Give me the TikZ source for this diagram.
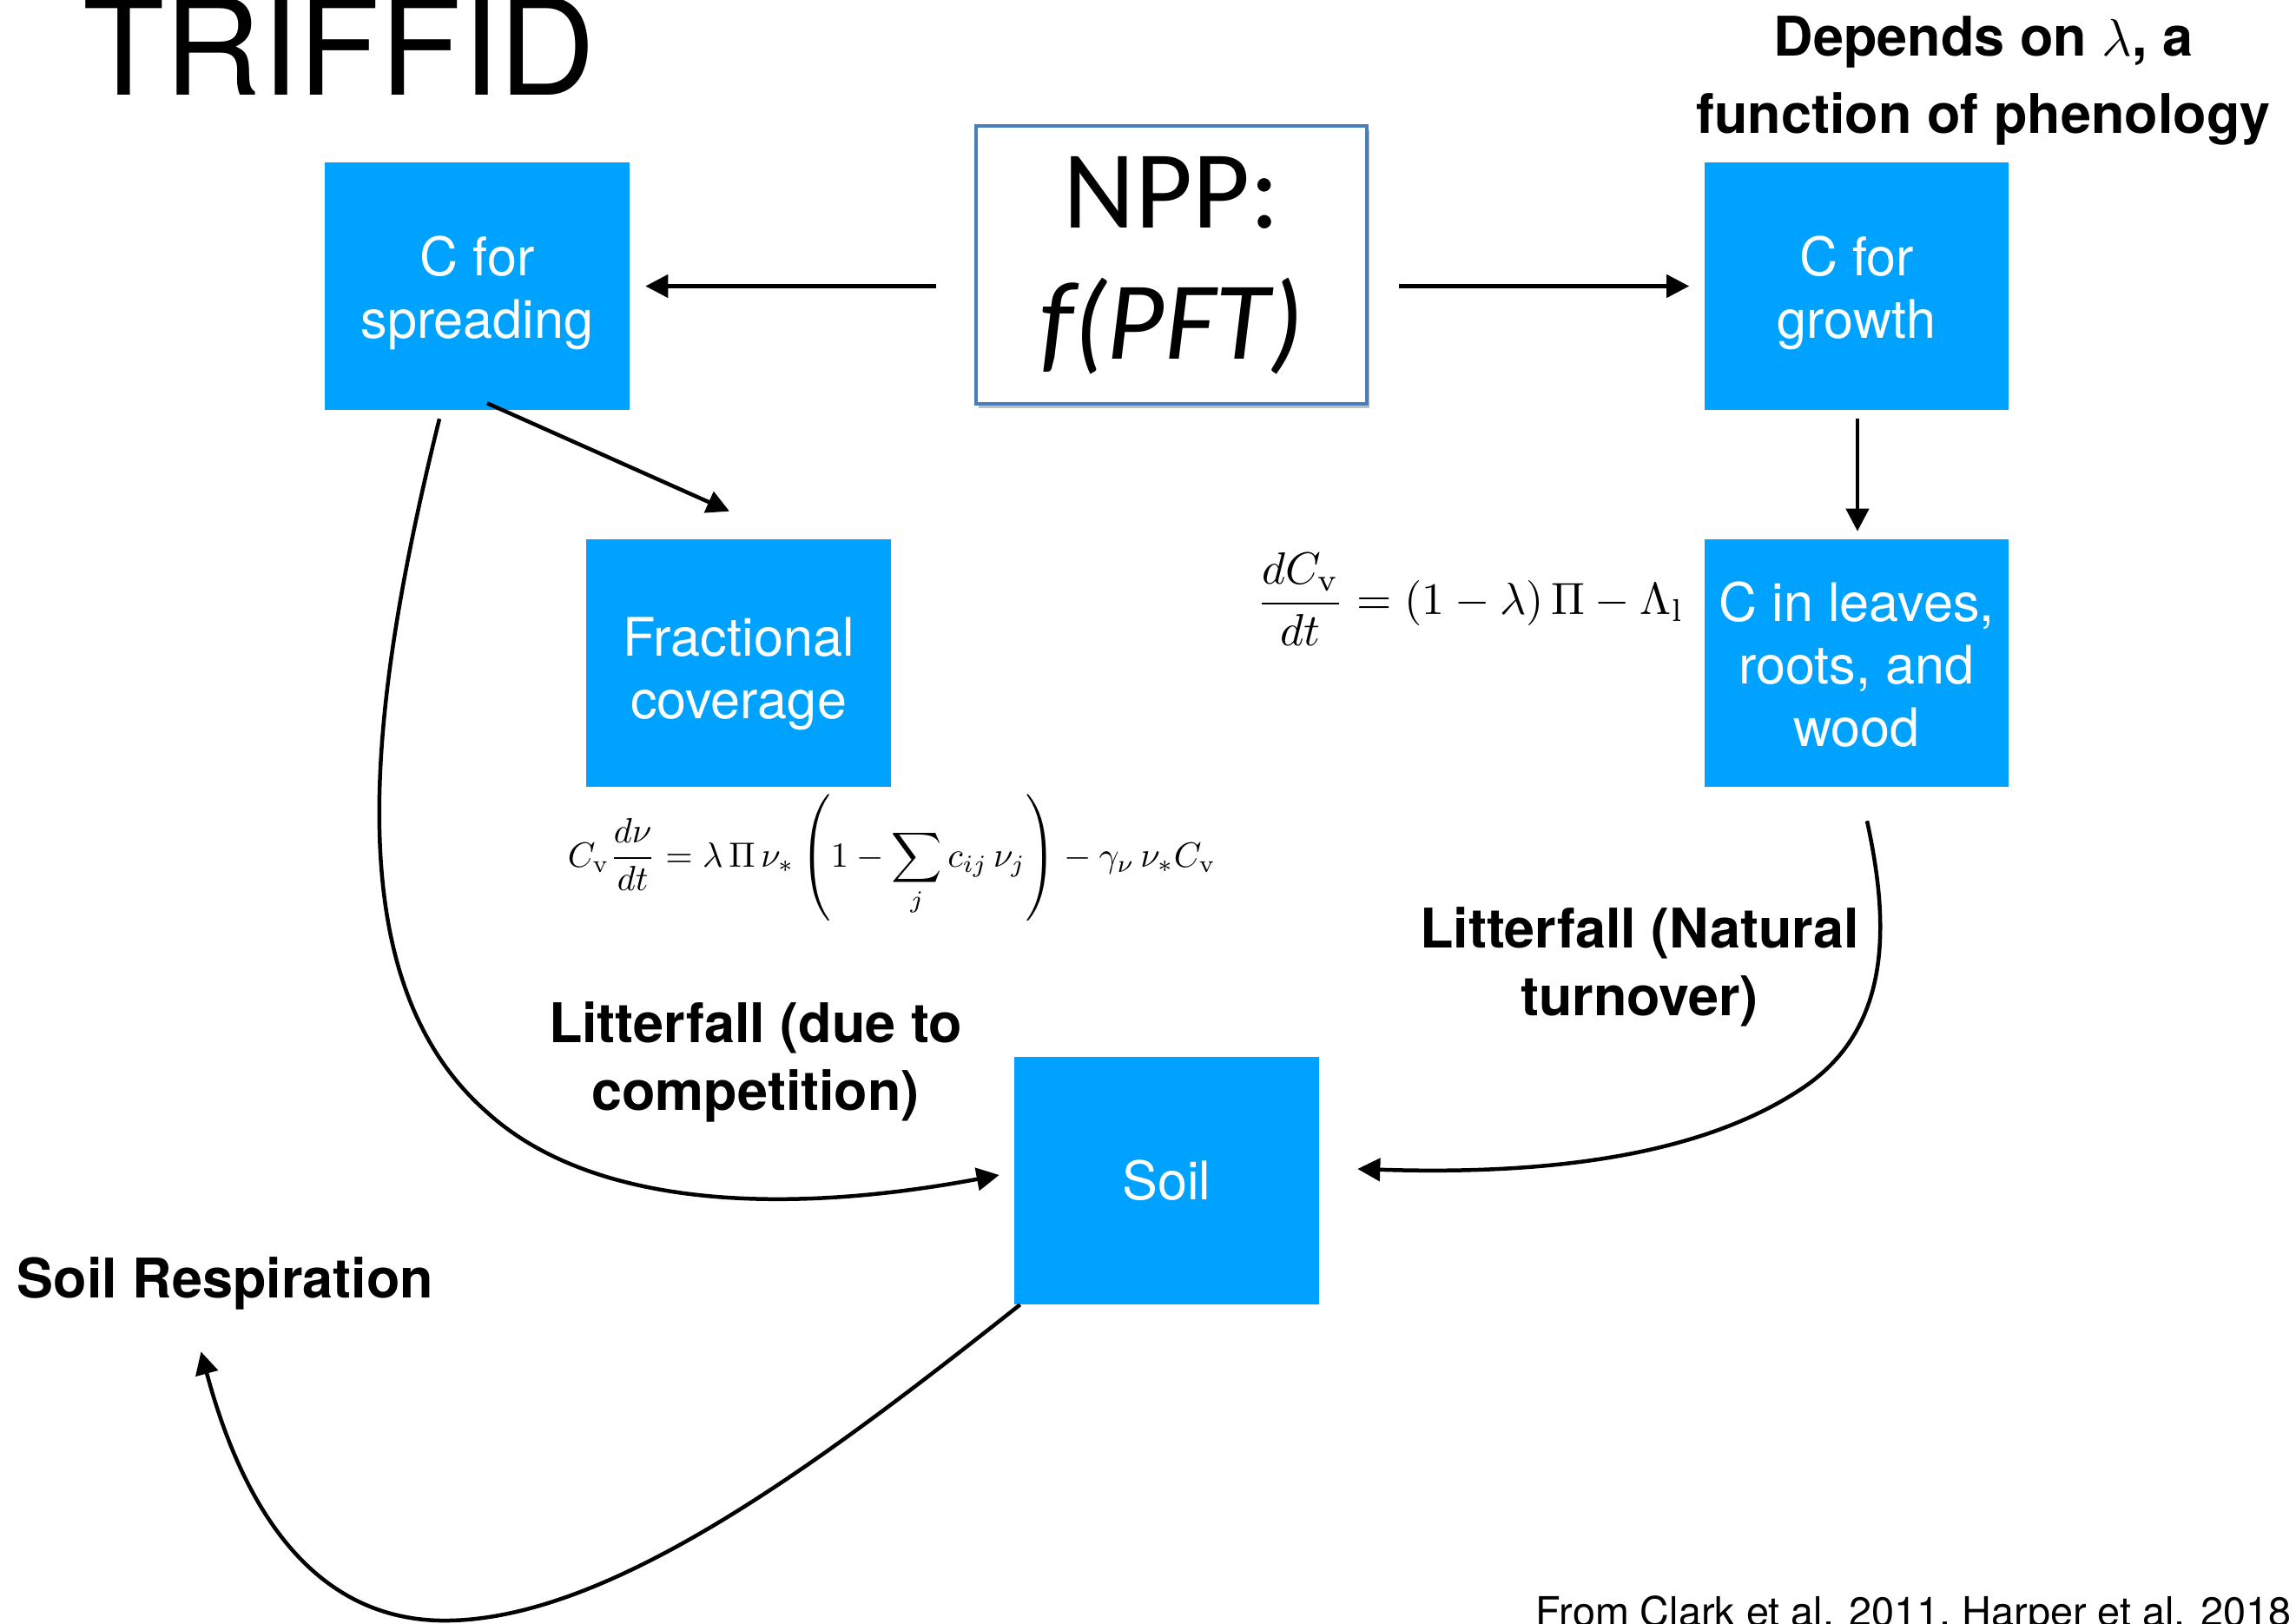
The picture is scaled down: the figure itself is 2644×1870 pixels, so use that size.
\documentclass[tikz,border=0pt]{standalone}
\usepackage[no-math]{fontspec}
\setmainfont{TeX Gyre Heros}
\newfontfamily\calibri{Carlito}
\usetikzlibrary{arrows.meta,calc,shadows}
\definecolor{boxblue}{HTML}{00A2FF}
\definecolor{nppborder}{HTML}{4A7EBB}
\newcommand{\padtop}[1]{\rule{0pt}{#1}}
\begin{document}
\begin{tikzpicture}[x=0.01cm,y=-0.01cm,
  bluebox/.style={fill=boxblue, draw=none, text=white, minimum width=3.5cm, minimum height=2.84cm, align=center, inner sep=0pt, font=\fontsize{17.4}{20.5}\selectfont},
  lbl/.style={font=\bfseries\fontsize{17.9}{22.2}\selectfont, align=center, inner sep=0pt},
  lblone/.style={font=\bfseries\fontsize{17.9}{22.2}\selectfont, inner sep=0pt},
  arr/.style={line width=0.045cm, -{Triangle[length=0.26cm,width=0.26cm]}},
]
\useasboundingbox (0,0) rectangle (2644,1870);

% title
\node[anchor=base west, inner sep=0pt, font=\fontsize{43.8}{50}\selectfont] (title) at (95,110) {TRIFFID};

% boxes
\node[bluebox] (spread) at (549.5,329.5) {\padtop{17.3pt}C for\\spreading};
\node[bluebox] (growth) at (2138,329.5) {\padtop{17.3pt}C for\\growth};
\node[bluebox] (frac) at (850.5,763.5) {\padtop{19.5pt}Fractional\\coverage};
\node[bluebox] (leaves) at (2138,763.5) {\padtop{13.8pt}C in leaves,\\roots, and\\wood};
\node[bluebox] (soil) at (1343.5,1359.5) {Soil};

% NPP box
\node[draw=nppborder, line width=0.04cm, fill=white, minimum width=4.5cm, minimum height=3.2cm,
  drop shadow={shadow xshift=0.03cm, shadow yshift=-0.05cm, opacity=0.25, fill=black}] (npp) at (1349,305) {};
\node[font=\calibri\fontsize{36.4}{43}\selectfont, align=center, inner sep=0pt] (npptext) at ($(npp.center)+(0,1)$) {NPP:\\\textit{f(PFT)}};

% labels
\node[lbl, font=\bfseries\fontsize{17.9}{25.3}\selectfont] (dep) at (2284,93) {Depends on $\lambda$, a\\function of phenology};
\node[lbl] (litc) at (870,1223) {Litterfall (due to\\competition)};
\node[lbl] (litn) at (1888,1113) {Litterfall (Natural\\turnover)};
\node[lblone, anchor=base west] (resp) at (19,1494) {Soil Respiration};
\node[anchor=base west, inner sep=0pt, font=\fontsize{13.3}{16}\selectfont] (cite) at (1768,1872) {From Clark et al. 2011, Harper et al. 2018};

% equations
\node (eq1) at (1027,988) {\resizebox{7.46cm}{!}{$\displaystyle C_{\mathrm{v}}\frac{d\nu}{dt} = \lambda\,\Pi\,\nu_{*}\left(1-\sum_{j} c_{ij}\,\nu_{j}\right) - \gamma_{\nu}\,\nu_{*} C_{\mathrm{v}}$}};
\node (eq2) at (1693,690) {\resizebox{4.92cm}{!}{$\displaystyle \frac{dC_{\mathrm{v}}}{dt} = (1-\lambda)\,\Pi - \Lambda_{\mathrm{l}}$}};

% connectors
\draw[arr] ($(npp.west|-spread.east)+(-44,0)$) -- ($(spread.east)+(18,0)$);
\draw[arr] ($(npp.east|-growth.west)+(35,0)$) -- ($(growth.west)+(-17,0)$);
\draw[arr] ($(spread.south)+(11.5,-8)$) -- ($(frac.north)+(-10.5,-32)$);
\draw[arr] ($(growth.south)+(1,10)$) -- ($(leaves.north)+(1,-9)$);
\draw[arr] ($(spread.south)+(-43.5,10)$) .. controls (420,830) and (390,1130) .. (560,1280)
  .. controls (680,1390) and (900,1400) .. ($(soil.west)+(-17,-6.5)$);
\draw[arr] ($(leaves.south)+(12,39)$) .. controls (2175,1060) and (2180,1180) .. (2080,1250)
  .. controls (1950,1340) and (1750,1352) .. ($(soil.east)+(44,-13.5)$);
\draw[arr] ($(soil.south west)+(7,0)$) .. controls (950,1680) and (700,1870) .. (506,1866)
  .. controls (340,1862) and (270,1700) .. ($(resp.south)+(-28,48)$);
\end{tikzpicture}
\end{document}
